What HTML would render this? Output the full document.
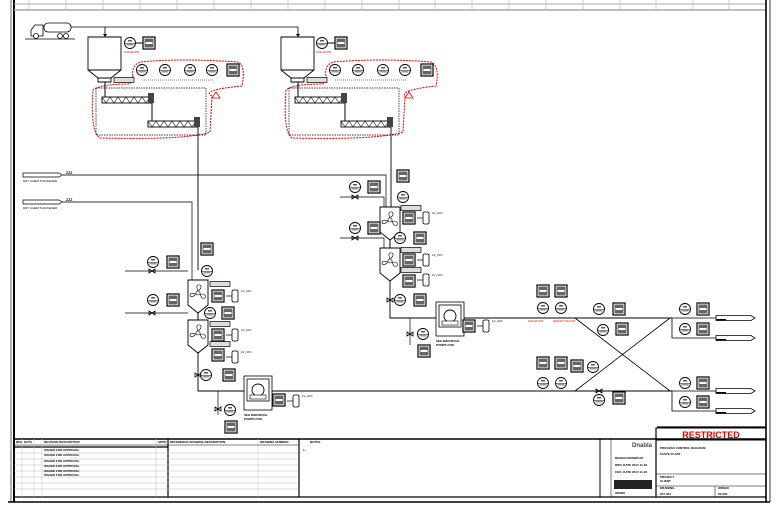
<!DOCTYPE html>
<html><head><meta charset="utf-8"><style>
body{margin:0;background:#fff}
svg{display:block;font-family:"Liberation Sans",sans-serif}
</style></head><body>
<svg width="779" height="510" viewBox="0 0 779 510" xmlns="http://www.w3.org/2000/svg">
<defs>
<g id="ib"><circle r="5.5" fill="#fff" stroke="#000" stroke-width="0.9"/><line x1="-5.5" y1="0.5" x2="5.5" y2="0.5" stroke="#000" stroke-width="0.5"/><rect x="-2" y="-3" width="4" height="1.5" fill="#557"/><rect x="-3.5" y="1.2" width="7" height="1.2" fill="#779"/></g>
<g id="db"><rect x="-6" y="-6" width="12" height="12" fill="#fff" stroke="#000" stroke-width="1.2"/><rect x="-4.5" y="-4.5" width="9" height="9" fill="#666"/><rect x="-3.5" y="-1" width="7" height="2" fill="#fff"/></g>
<g id="vl"><path d="M-3,-2 L3,2 L3,-2 L-3,2 Z" fill="none" stroke="#000" stroke-width="0.8"/></g>
<g id="tk"><rect x="-3" y="-6" width="6" height="12" rx="1.5" fill="#fff" stroke="#000" stroke-width="0.8"/><line x1="-9" y1="0" x2="-3" y2="0" stroke="#000" stroke-width="0.7"/><text x="6" y="-4" font-size="3">LV_UIO</text></g>
<g id="tg"><rect x="-10" y="-2.5" width="20" height="5" fill="#ddd" stroke="#000" stroke-width="0.7"/></g>
<g id="mx"><path d="M0,0 h20 v25 l-10,8 l-10,-8 Z" fill="#fff" stroke="#000" stroke-width="0.9"/><circle cx="10" cy="13" r="2" fill="none" stroke="#000" stroke-width="0.6"/><path d="M10,11 q-3,-7 2,-6 q3,2 -2,6 M12,14 q7,0 5,4 q-3,2 -5,-4 M8,14 q-5,5 -6,1 q0,-3 6,-1" fill="none" stroke="#000" stroke-width="0.6"/></g>
<g id="sc"><rect x="0" y="0" width="50" height="6" fill="#fff" stroke="#000" stroke-width="0.9"/><path d="M0,0 l4,6 l4,-6 l4,6 l4,-6 l4,6 l4,-6 l4,6 l4,-6 l4,6 l4,-6 l4,6 l2,-3" fill="none" stroke="#000" stroke-width="0.6"/><rect x="46" y="-4" width="6" height="10" fill="#444"/></g>
<g id="hp"><path d="M0,0 h33 v33 l-10,8 v4 h-13 v-4 l-10,-8 Z M0,33 h33 M10,41 h13" fill="#fff" stroke="#000" stroke-width="0.9"/></g>
<g id="pm"><rect x="-14" y="-14" width="28" height="34" fill="#fff" stroke="#000" stroke-width="0.8"/><rect x="-11" y="-11" width="22" height="22" fill="#fff" stroke="#000" stroke-width="0.8"/><circle r="6" fill="#fff" stroke="#000" stroke-width="0.9"/><rect x="-8" y="5" width="16" height="4" fill="#fff" stroke="#000" stroke-width="0.6"/><text x="-14" y="26" font-size="3" font-weight="bold">SEE INDIVIDUAL</text><text x="-14" y="30" font-size="3" font-weight="bold">PUMPS FOR</text></g>
<g id="out"><path d="M0,-2.5 h35 l4,2.5 l-4,2.5 h-35 Z" fill="#fff" stroke="#000" stroke-width="0.8"/><rect x="0" y="1" width="10" height="1.5" fill="#000"/></g>
</defs>

<rect x="0" y="0" width="779" height="510" fill="#fff"/>
<line x1="14" y1="0" x2="14" y2="502" stroke="#000" stroke-width="2"/>
<line x1="11" y1="0" x2="11" y2="502" stroke="#000" stroke-width="0.6"/>
<line x1="14" y1="4" x2="766" y2="4" stroke="#aaa" stroke-width="1"/>
<line x1="14" y1="10" x2="766" y2="10" stroke="#aaa" stroke-width="1.5"/>
<g stroke="#bbb" stroke-width="0.7">
<line x1="29" y1="0" x2="29" y2="10"/><line x1="66" y1="0" x2="66" y2="10"/><line x1="103" y1="0" x2="103" y2="10"/><line x1="140" y1="0" x2="140" y2="10"/><line x1="177" y1="0" x2="177" y2="10"/><line x1="214" y1="0" x2="214" y2="10"/><line x1="251" y1="0" x2="251" y2="10"/><line x1="288" y1="0" x2="288" y2="10"/><line x1="325" y1="0" x2="325" y2="10"/><line x1="362" y1="0" x2="362" y2="10"/><line x1="399" y1="0" x2="399" y2="10"/><line x1="435" y1="0" x2="435" y2="10"/><line x1="472" y1="0" x2="472" y2="10"/><line x1="509" y1="0" x2="509" y2="10"/><line x1="546" y1="0" x2="546" y2="10"/><line x1="583" y1="0" x2="583" y2="10"/><line x1="620" y1="0" x2="620" y2="10"/><line x1="656" y1="0" x2="656" y2="10"/><line x1="693" y1="0" x2="693" y2="10"/><line x1="729" y1="0" x2="729" y2="10"/>
</g>
<line x1="766" y1="0" x2="766" y2="502" stroke="#000" stroke-width="1.6"/>
<line x1="770" y1="0" x2="770" y2="502" stroke="#000" stroke-width="0.8"/>
<line x1="8" y1="502" x2="770" y2="502" stroke="#000" stroke-width="1.5"/>

<g fill="#fff" stroke="#000" stroke-width="0.8">
<rect x="44" y="23" width="27" height="9" rx="4"/><path d="M31,36 v-6 l4,-5 h8 v11 Z"/><circle cx="36" cy="36" r="2.5"/><circle cx="60" cy="36" r="2.5"/><circle cx="66" cy="36" r="2.5"/>
</g>
<line x1="25" y1="39" x2="75" y2="39" stroke="#000" stroke-width="0.8"/>
<path d="M71,27 H298 V35 M105,27 V35" fill="none" stroke="#000" stroke-width="0.8"/>
<path d="M103,34 l2,3 l2,-3 Z M296,34 l2,3 l2,-3Z" fill="#000"/>

<use href="#hp" x="88" y="37"/>
<use href="#ib" x="130" y="43"/><use href="#db" x="149" y="43"/><line x1="136" y1="43" x2="143" y2="43" stroke="#000"/>
<text x="124" y="53" font-size="3" fill="#e00">HIGH/LOW</text>
<path d="M133,76 Q131,66 140,62 Q180,58 238,62 Q246,66 242,86 Q200,90 212,96 L210,132 Q190,140 100,138 Q90,132 93,90 Q100,84 130,84 Z" fill="none" stroke="#e00" stroke-width="1" stroke-dasharray="2,1"/>
<rect x="96" y="88" width="110" height="47" fill="none" stroke="#000" stroke-width="0.7" stroke-dasharray="1.5,1"/>
<use href="#ib" x="142" y="70"/><use href="#ib" x="165" y="70"/><use href="#ib" x="190" y="70"/><use href="#ib" x="212" y="70"/><use href="#db" x="233" y="70"/>
<line x1="142" y1="80" x2="214" y2="80" stroke="#000" stroke-width="0.5" stroke-dasharray="1,1"/>
<use href="#tg" x="124" y="80"/>
<path d="M212,98 l4,-6 l4,6 Z" fill="none" stroke="#e00" stroke-width="0.8"/>
<use href="#sc" x="102" y="97"/><use href="#sc" x="148" y="121"/>
<line x1="105" y1="82" x2="105" y2="97" stroke="#000"/><line x1="152" y1="103" x2="152" y2="121" stroke="#000"/>
<line x1="198" y1="127" x2="198" y2="270" stroke="#000" stroke-width="0.9"/>

<use href="#hp" x="281" y="37"/>
<use href="#ib" x="322" y="43"/><use href="#db" x="341" y="43"/><line x1="328" y1="43" x2="335" y2="43" stroke="#000"/>
<text x="316" y="53" font-size="3" fill="#e00">HIGH/LOW</text>
<path d="M326,76 Q324,66 333,62 Q380,58 431,62 Q440,66 436,86 Q400,90 405,96 L403,132 Q380,140 292,138 Q283,132 286,90 Q293,84 323,84 Z" fill="none" stroke="#e00" stroke-width="1" stroke-dasharray="2,1"/>
<rect x="289" y="88" width="110" height="47" fill="none" stroke="#000" stroke-width="0.7" stroke-dasharray="1.5,1"/>
<use href="#ib" x="335" y="70"/><use href="#ib" x="358" y="70"/><use href="#ib" x="383" y="70"/><use href="#ib" x="405" y="70"/><use href="#db" x="427" y="70"/>
<line x1="335" y1="80" x2="407" y2="80" stroke="#000" stroke-width="0.5" stroke-dasharray="1,1"/>
<use href="#tg" x="317" y="80"/>
<path d="M405,98 l4,-6 l4,6 Z" fill="none" stroke="#e00" stroke-width="0.8"/>
<use href="#sc" x="295" y="97"/><use href="#sc" x="341" y="121"/>
<line x1="298" y1="82" x2="298" y2="97" stroke="#000"/><line x1="345" y1="103" x2="345" y2="121" stroke="#000"/>
<line x1="391" y1="127" x2="391" y2="207" stroke="#000" stroke-width="0.9"/>

<g fill="#fff" stroke="#000" stroke-width="0.7"><path d="M23,173 h36 l3,2 l-3,2 h-36 Z"/><path d="M23,200 h36 l3,2 l-3,2 h-36 Z"/></g>
<text x="23" y="182" font-size="3">DRY CHEM THICKENER</text><text x="23" y="209" font-size="3">DRY CHEM THICKENER</text>
<text x="66" y="174" font-size="3.5" font-weight="bold">ZZZ</text><text x="66" y="201" font-size="3.5" font-weight="bold">ZZZ</text>
<path d="M62,175 H386 V207 M62,202 H192 V280" fill="none" stroke="#000" stroke-width="0.9" opacity="0.8"/>

<use href="#mx" x="188" y="280"/><use href="#mx" x="188" y="320"/>
<line x1="198" y1="313" x2="198" y2="320" stroke="#000"/>
<path d="M125,271 H188" fill="none" stroke="#000" stroke-width="0.7"/>
<use href="#ib" x="153" y="262"/><use href="#db" x="173" y="262"/><use href="#vl" x="152" y="271"/>
<use href="#ib" x="153" y="300"/><use href="#db" x="173" y="300"/><use href="#vl" x="152" y="313"/>
<line x1="125" y1="313" x2="188" y2="313" stroke="#000" stroke-width="0.7"/>
<use href="#db" x="207" y="249"/><use href="#ib" x="207" y="271"/>
<use href="#tg" x="220" y="284"/><use href="#db" x="218" y="296"/><use href="#tk" x="235" y="296"/>
<use href="#ib" x="210" y="313"/><use href="#db" x="228" y="313"/>
<use href="#tg" x="220" y="324"/><use href="#db" x="218" y="335"/><use href="#tk" x="235" y="335"/>
<use href="#tg" x="220" y="344"/><use href="#db" x="218" y="355"/><use href="#tk" x="235" y="357"/>
<path d="M198,352 V391 H470" fill="none" stroke="#000" stroke-width="0.9"/>
<use href="#vl" x="198" y="375"/><use href="#ib" x="206" y="375"/><use href="#db" x="229" y="375"/>
<use href="#pm" x="258" y="390"/>
<use href="#db" x="279" y="400"/><use href="#tk" x="296" y="401"/>
<line x1="218" y1="391" x2="218" y2="415" stroke="#000" stroke-width="0.7"/><use href="#vl" x="218" y="409"/>
<use href="#ib" x="230" y="410"/><use href="#db" x="231" y="427"/>

<use href="#mx" x="380" y="207"/><use href="#mx" x="380" y="248"/>
<line x1="390" y1="240" x2="390" y2="248" stroke="#000"/>
<use href="#ib" x="355" y="187"/><use href="#db" x="374" y="187"/><use href="#vl" x="355" y="197"/>
<path d="M340,197 H384 V207" fill="none" stroke="#000" stroke-width="0.7"/>
<use href="#ib" x="355" y="228"/><use href="#db" x="374" y="228"/><use href="#vl" x="355" y="238"/>
<path d="M340,238 H384 V248" fill="none" stroke="#000" stroke-width="0.7"/>
<use href="#db" x="403" y="176"/><use href="#ib" x="403" y="197"/>
<use href="#tg" x="411" y="208"/><use href="#db" x="409" y="218"/><use href="#tk" x="426" y="218"/>
<use href="#ib" x="400" y="238"/><use href="#db" x="420" y="238"/>
<use href="#tg" x="411" y="250"/><use href="#db" x="409" y="260"/><use href="#tk" x="426" y="260"/>
<use href="#tg" x="411" y="270"/><use href="#db" x="409" y="281"/><use href="#tk" x="426" y="280"/>
<path d="M390,281 V318 H672" fill="none" stroke="#000" stroke-width="0.9"/>
<use href="#vl" x="390" y="300"/><use href="#ib" x="400" y="300"/><use href="#db" x="420" y="300"/>
<use href="#pm" x="450" y="316"/>
<use href="#db" x="469" y="326"/><use href="#tk" x="486" y="326"/>
<line x1="410" y1="318" x2="410" y2="345" stroke="#000" stroke-width="0.7"/><use href="#vl" x="410" y="334"/>
<use href="#ib" x="423" y="334"/><use href="#db" x="424" y="351"/>

<path d="M470,391 H672" fill="none" stroke="#000" stroke-width="0.9"/>
<use href="#db" x="543" y="291"/><use href="#db" x="561" y="291"/><use href="#ib" x="543" y="308"/><use href="#ib" x="561" y="308"/>
<text x="528" y="322" font-size="3" fill="#e00">HIGH/LOW</text><text x="553" y="322" font-size="3" fill="#e00">DENSITY/FLOW</text>
<use href="#db" x="543" y="363"/><use href="#db" x="561" y="363"/><use href="#db" x="577" y="366"/><use href="#ib" x="543" y="383"/><use href="#ib" x="561" y="383"/><use href="#ib" x="593" y="367"/>
<use href="#ib" x="599" y="309"/><use href="#db" x="619" y="309"/><use href="#ib" x="603" y="330"/><use href="#db" x="622" y="329"/>
<use href="#ib" x="599" y="400"/><use href="#db" x="619" y="398"/><use href="#vl" x="599" y="391"/>
<path d="M575,318 L670,391 M575,391 L670,318" stroke="#000" stroke-width="0.8"/>
<path d="M672,318 V338 H716 M672,391 V411 H716 M672,318 H716 M672,391 H716" fill="none" stroke="#000" stroke-width="0.8"/>
<use href="#ib" x="685" y="309"/><use href="#db" x="703" y="309"/><use href="#ib" x="685" y="329"/><use href="#db" x="703" y="329"/>
<use href="#ib" x="685" y="383"/><use href="#db" x="703" y="383"/><use href="#ib" x="685" y="402"/><use href="#db" x="703" y="402"/>
<use href="#out" x="716" y="318"/><use href="#out" x="716" y="338"/><use href="#out" x="716" y="391"/><use href="#out" x="716" y="411"/>
<line x1="657" y1="427" x2="766" y2="427" stroke="#000" stroke-width="1.2"/>

<g fill="none" stroke="#000">
<line x1="14" y1="439" x2="766" y2="439" stroke-width="1.6"/>
<line x1="14" y1="497" x2="766" y2="497" stroke-width="1.2"/>
<line x1="168" y1="439" x2="168" y2="497" stroke-width="1.2"/>
<line x1="299" y1="439" x2="299" y2="497" stroke-width="1.2"/>
<line x1="600" y1="439" x2="600" y2="497" stroke-width="1"/>
<line x1="656" y1="428" x2="656" y2="497" stroke-width="1.2"/>
<rect x="656" y="428" width="110" height="12" stroke-width="1"/>
<line x1="14" y1="445" x2="298" y2="445" stroke-width="0.6"/>
<line x1="14" y1="447" x2="168" y2="447" stroke-width="1.2"/>
<line x1="611" y1="439" x2="611" y2="497" stroke-width="0.5"/>
<line x1="656" y1="474" x2="766" y2="474" stroke-width="0.6"/>
<line x1="656" y1="486" x2="766" y2="486" stroke-width="0.6"/>
<line x1="715" y1="486" x2="715" y2="497" stroke-width="0.5"/>
</g>
<g stroke="#bbb" stroke-width="0.5">
<line x1="14" y1="453" x2="298" y2="453"/><line x1="14" y1="459" x2="298" y2="459"/><line x1="14" y1="465" x2="298" y2="465"/><line x1="14" y1="471" x2="298" y2="471"/><line x1="14" y1="477" x2="298" y2="477"/><line x1="14" y1="483" x2="298" y2="483"/><line x1="14" y1="489" x2="298" y2="489"/>
<line x1="22" y1="439" x2="22" y2="497"/><line x1="34" y1="439" x2="34" y2="497"/><line x1="42" y1="439" x2="42" y2="497"/><line x1="156" y1="439" x2="156" y2="497"/><line x1="258" y1="439" x2="258" y2="497"/>
</g>
<g font-size="3" font-weight="bold">
<text x="16" y="443">REV</text><text x="24" y="443">DATE</text><text x="44" y="443">REVISION DESCRIPTION</text><text x="158" y="443">APPD</text>
<text x="170" y="443">REFERENCE DRAWING DESCRIPTION</text><text x="260" y="443">DRAWING NUMBER</text>
<text x="310" y="443">NOTES</text><text x="303" y="451">1.</text>
<text x="44" y="451">ISSUED FOR APPROVAL</text><text x="44" y="456">ISSUED FOR APPROVAL</text><text x="44" y="462">ISSUED FOR APPROVAL</text><text x="44" y="467">ISSUED FOR APPROVAL</text><text x="44" y="472">ISSUED FOR APPROVAL</text><text x="44" y="476">ISSUED FOR APPROVAL</text>
<text x="660" y="449">PROCESS CONTROL DIAGRAM</text><text x="660" y="455">PASTE PLANT</text>
<text x="660" y="478">PROJECT</text><text x="660" y="482">CLIENT</text>
<text x="660" y="489">DRAWING</text><text x="718" y="489">ORIGIN</text>
<text x="660" y="495">237-001</text><text x="718" y="495">00-000</text>
<text x="615" y="459">DESIGN DRAWN BY</text><text x="615" y="466">DRN. DATE 2017-11-02</text><text x="615" y="473">CHK. DATE 2017-11-02</text>
<text x="615" y="494">000000</text>
</g>
<text x="632" y="447" font-size="6" font-weight="bold" fill="#444">Dnabla</text>
<rect x="614" y="480" width="38" height="9" fill="#222"/>
<text x="711" y="438" font-size="9" font-weight="bold" fill="#e00" text-anchor="middle">RESTRICTED</text>
</svg>
</body></html>
